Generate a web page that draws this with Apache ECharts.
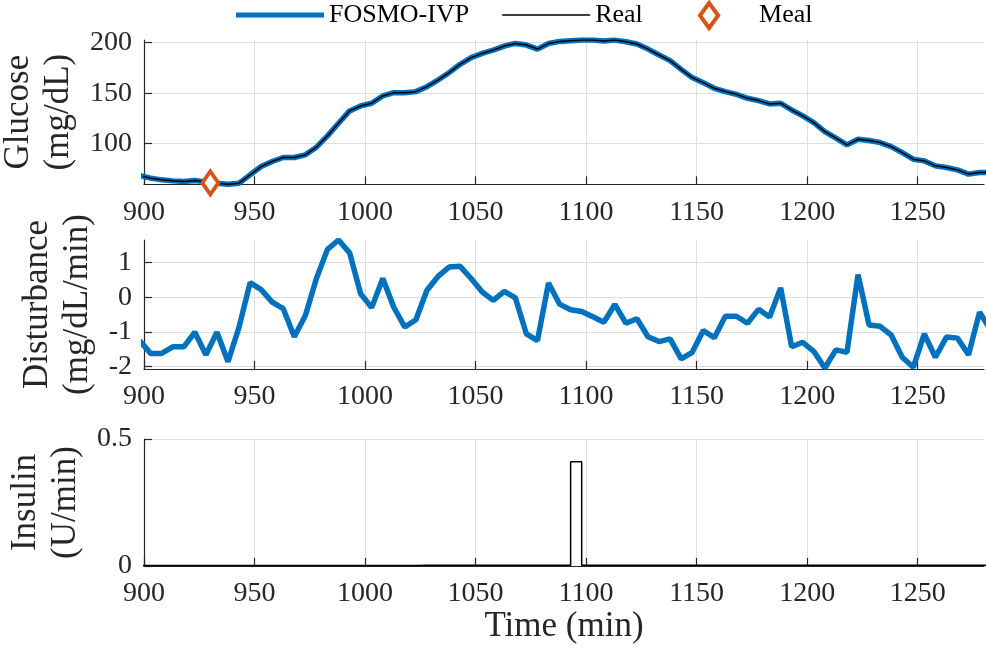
<!DOCTYPE html>
<html lang="en">
<head>
<meta charset="UTF-8">
<title>FOSMO-IVP</title>
</head>
<body style="margin:0; background:#fff">
<div id="main" style="width:986px; height:656px"></div>
<script src="https://cdn.jsdelivr.net/npm/echarts/dist/echarts.min.js"></script>
<script type="text/javascript">
// sample times (min)
var times = [898, 903, 908, 913, 918, 923, 928, 933, 938, 943,
    948, 953, 958, 963, 968, 973, 978, 983, 988, 993,
    998, 1003, 1008, 1013, 1018, 1023, 1028, 1033, 1038, 1043,
    1048, 1053, 1058, 1063, 1068, 1073, 1078, 1083, 1088, 1093,
    1098, 1103, 1108, 1113, 1118, 1123, 1128, 1133, 1138, 1143,
    1148, 1153, 1158, 1163, 1168, 1173, 1178, 1183, 1188, 1193,
    1198, 1203, 1208, 1213, 1218, 1223, 1228, 1233, 1238, 1243,
    1248, 1253, 1258, 1263, 1268, 1273, 1278, 1283];

// glucose (mg/dL), estimate and real overlap
var glucose = [68.3, 65.7, 64, 63, 62.4, 63.4, 62, 60.7, 59.6, 60.7,
    69, 77.2, 82.2, 86.2, 86.2, 88.8, 96.4, 107.6, 120.1, 132.4,
    137.3, 140, 147.2, 150.5, 150.5, 151.5, 156.4, 163, 170.3, 178.6,
    185.2, 189.4, 192.7, 196.7, 199.3, 197.7, 193.7, 199.3, 201.3, 202,
    202.6, 202.6, 201.6, 202.6, 201, 198.7, 193.7, 187.8, 182.2, 173.6,
    165.4, 160.4, 154.8, 151.5, 148.8, 144.9, 142.6, 139.3, 140, 133.3,
    127.4, 120.8, 111.9, 105.3, 98.7, 104.3, 103, 101, 97, 91.1,
    84.5, 82.8, 77.9, 76.3, 73.9, 69.7, 71.3, 71.5];

// disturbance (mg/dL/min)
var disturbance = [-1.25, -1.62, -1.62, -1.43, -1.43, -1.01, -1.66, -1.01, -1.86, -0.86,
    0.42, 0.22, -0.14, -0.33, -1.14, -0.53, 0.54, 1.38, 1.65, 1.28,
    0.10, -0.30, 0.54, -0.29, -0.86, -0.65, 0.20, 0.60, 0.87, 0.89,
    0.54, 0.15, -0.09, 0.17, -0.02, -1.06, -1.25, 0.41, -0.20, -0.36,
    -0.41, -0.56, -0.72, -0.21, -0.75, -0.62, -1.14, -1.28, -1.20, -1.78,
    -1.59, -0.96, -1.17, -0.55, -0.55, -0.75, -0.35, -0.57, 0.27, -1.43,
    -1.30, -1.56, -2.04, -1.52, -1.59, 0.65, -0.80, -0.84, -1.09, -1.73,
    -2.02, -1.06, -1.73, -1.15, -1.18, -1.66, -0.43, -0.95];

// insulin (U/min)
var insulin = [0.002, 0.002, 0.002, 0.002, 0.002, 0.002, 0.002, 0.002, 0.002, 0.002,
    0.002, 0.002, 0.002, 0.002, 0.002, 0.002, 0.002, 0.002, 0.002, 0.002,
    0.002, 0.002, 0.002, 0.002, 0.002, 0.003, 0.003, 0.003, 0.003, 0.003,
    0.003, 0.003, 0.003, 0.003, 0.003, 0.003, 0.003, 0.003, 0.003, 0.41,
    0.003, 0.003, 0.003, 0.003, 0.003, 0.003, 0.003, 0.003, 0.003, 0.003,
    0.003, 0.003, 0.003, 0.003, 0.003, 0.003, 0.003, 0.003, 0.003, 0.003,
    0.003, 0.003, 0.003, 0.003, 0.003, 0.003, 0.003, 0.003, 0.003, 0.003,
    0.003, 0.003, 0.003, 0.003, 0.003, 0.003, 0.003, 0.003];

var mealTime = [930];
var mealGlucose = [61];

var xTicks = [900, 950, 1000, 1050, 1100, 1150, 1200, 1250];
var glucoseTicks = [100, 150, 200];
var disturbanceTicks = [-2, -1, 0, 1];
var insulinTicks = [0, 0.5];

function pairs(xs, ys) {
    var out = [];
    for (var i = 0; i < xs.length; i++) out.push([xs[i], ys[i]]);
    return out;
}

var font = 'Liberation Serif';
var ink = '#262626';
var blue = '#0072BD';
var orange = '#D95319';

function plain(v) { return String(v); }

function xAx(idx, name) {
    return {
        type: 'value', gridIndex: idx, min: 900, max: 1280,
        axisLine: {show: true, onZero: false, lineStyle: {color: ink, width: 1.2}},
        axisTick: {show: true, inside: true, length: 8, customValues: xTicks, lineStyle: {color: ink, width: 1.2}},
        axisLabel: {customValues: xTicks, formatter: plain, margin: 14, color: ink, fontFamily: font, fontSize: 28},
        splitLine: {show: true, lineStyle: {color: '#dedede', width: 1}},
        name: name, nameLocation: 'middle', nameGap: 42,
        nameTextStyle: {color: ink, fontFamily: font, fontSize: 35}
    };
}

function yAx(idx, min, max, ticks, name, gap) {
    return {
        type: 'value', gridIndex: idx, min: min, max: max,
        axisLine: {show: true, onZero: false, lineStyle: {color: ink, width: 1.2}},
        axisTick: {show: true, inside: true, length: 8, customValues: ticks, lineStyle: {color: ink, width: 1.2}},
        axisLabel: {customValues: ticks, formatter: plain, margin: 12, color: ink, fontFamily: font, fontSize: 28},
        splitLine: {show: true, lineStyle: {color: '#dedede', width: 1}},
        name: name, nameLocation: 'middle', nameRotate: 90, nameGap: gap,
        nameTextStyle: {color: ink, fontFamily: font, fontSize: 35, lineHeight: 40, align: 'center'}
    };
}

var legendText = {color: '#000', fontFamily: font, fontSize: 26};

var myChart = echarts.init(document.getElementById('main'));
var option = {
    animation: false,
    backgroundColor: '#fff',
    legend: [
        {
            left: 236, top: 2, padding: 0, itemWidth: 88, itemHeight: 24, itemGap: 33,
            textStyle: legendText,
            data: [
                {name: 'FOSMO-IVP', icon: 'path://M0,0 L88,0 L88,5 L0,5 Z', itemStyle: {color: blue}},
                {name: 'Real', icon: 'path://M0,0 L88,0 L88,1.5 L0,1.5 Z', itemStyle: {color: '#000'}}
            ]
        },
        {
            left: 698, top: 1, padding: 0, itemWidth: 22, itemHeight: 25,
            textStyle: {color: '#000', fontFamily: font, fontSize: 26, padding: [0, 0, 0, 34]},
            data: [{name: 'Meal', icon: 'path://M8,0 L16,11 L8,22 L0,11 Z',
                itemStyle: {color: '#fff', borderColor: orange, borderWidth: 4}}]
        }
    ],
    grid: [
        {left: 144, right: 2, top: 40, height: 144.3, outerBoundsMode: 'none'},
        {left: 144, right: 2, top: 240, height: 129, outerBoundsMode: 'none'},
        {left: 144, right: 2, top: 439, height: 127, outerBoundsMode: 'none'}
    ],
    xAxis: [xAx(0, ''), xAx(1, ''), xAx(2, 'Time (min)')],
    yAxis: [
        yAx(0, 59.6, 202.7, glucoseTicks, 'Glucose\n(mg/dL)', 59),
        yAx(1, -2.07, 1.65, disturbanceTicks, 'Disturbance\n(mg/dL/min)', 40),
        yAx(2, 0, 0.5, insulinTicks, 'Insulin\n(U/min)', 55)
    ],
    series: [
        {
            name: 'FOSMO-IVP', type: 'line', xAxisIndex: 0, yAxisIndex: 0,
            data: pairs(times, glucose), symbol: 'none',
            lineStyle: {color: blue, width: 5.5}, itemStyle: {color: blue}
        },
        {
            name: 'Real', type: 'line', xAxisIndex: 0, yAxisIndex: 0,
            data: pairs(times, glucose), symbol: 'none',
            lineStyle: {color: '#000', width: 1.5}, itemStyle: {color: '#000'}
        },
        {
            name: 'Meal', type: 'scatter', xAxisIndex: 0, yAxisIndex: 0, z: 5,
            data: pairs(mealTime, mealGlucose), symbol: 'diamond', symbolSize: [16, 23],
            itemStyle: {color: '#fff', borderColor: orange, borderWidth: 4, opacity: 1}
        },
        {
            name: 'Disturbance', type: 'line', xAxisIndex: 1, yAxisIndex: 1,
            data: pairs(times, disturbance), symbol: 'none',
            lineStyle: {color: blue, width: 5.5}
        },
        {
            name: 'Insulin', type: 'line', xAxisIndex: 2, yAxisIndex: 2, step: 'end',
            data: pairs(times, insulin), symbol: 'none',
            lineStyle: {color: '#000', width: 1.5}
        }
    ]
};
myChart.setOption(option);
</script>
</body>
</html>
